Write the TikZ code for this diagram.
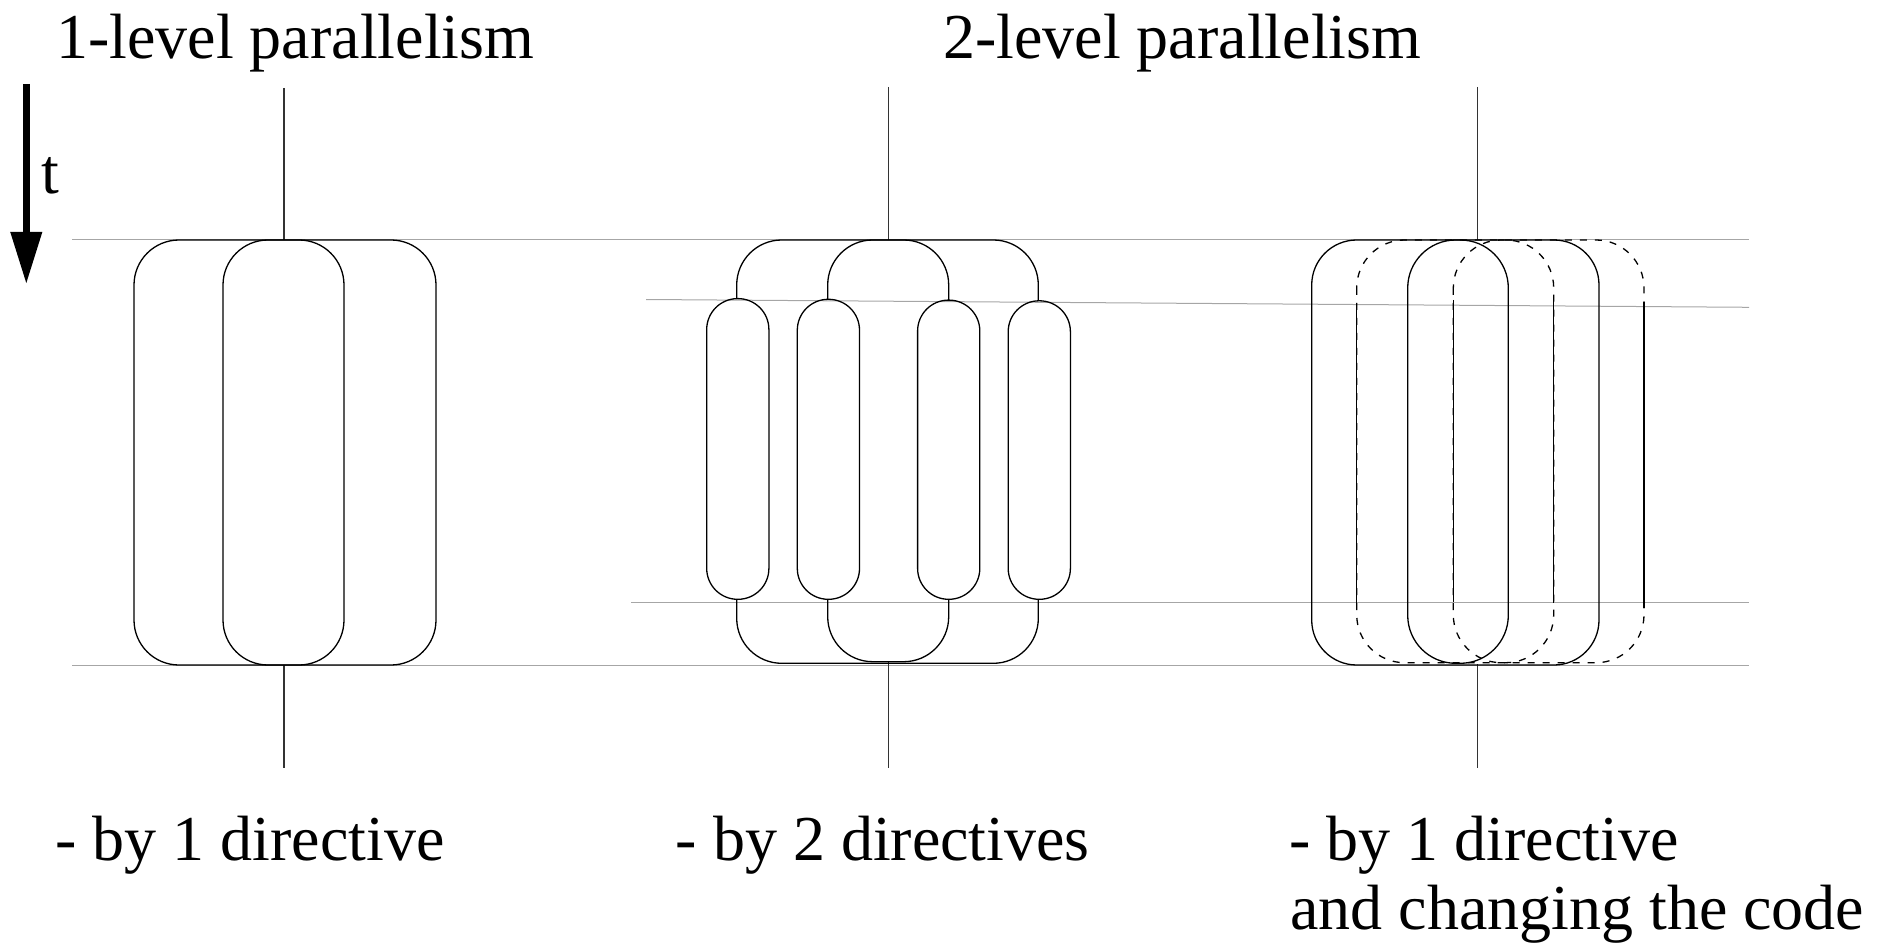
\documentclass[tikz,border=0pt]{standalone}
\usepackage{fontspec}
\setmainfont{Liberation Serif}
\usetikzlibrary{arrows.meta}
\begin{document}
\begin{tikzpicture}[x=1pt,y=-1pt,
  solidln/.style={line width=1.3pt,black},
  dashln/.style={line width=1.3pt,black,dash pattern=on 7pt off 8pt},
  guide/.style={line width=1pt,gray!70},
  axisln/.style={line width=1.5pt,black!80},
  lbl/.style={anchor=base west,inner sep=0pt,font=\fontsize{64}{70}\selectfont}]
\useasboundingbox (0,0) rectangle (1887,949);
% guide lines
\coordinate (gTopL) at (72,240);   \coordinate (gTopR) at (1749,240);
\coordinate (gBotL) at (72,665);   \coordinate (gBotR) at (1749,665);
\coordinate (gSlL) at (646,299.5); \coordinate (gSlR) at (1749,307.3);
\coordinate (gLoL) at (631,602.5); \coordinate (gLoR) at (1749,602.5);
\draw[guide] (gTopL) -- (gTopR);
\draw[guide] (gBotL) -- (gBotR);
\draw[guide] (gSlL) -- (gSlR);
\draw[guide] (gLoL) -- (gLoR);
% time arrow
\coordinate (tA) at (26.3,84); \coordinate (tB) at (26.3,284);
\draw[line width=7pt,-{Triangle[width=30pt,length=52pt]}] (tA) -- (tB);
\node[lbl] (tlab) at (41,194) {t};
% titles
\node[lbl] (title1) at (56,59) {1-level parallelism};
\node[lbl] (title2) at (943,59) {2-level parallelism};
% ---------- figure 1 ----------
\draw[axisln] (284,88) -- (284,240);
\draw[axisln] (284,665) -- (284,768);
\draw[solidln,rounded corners=45pt] (134,240) rectangle (436,665);
\draw[solidln,rounded corners=45pt] (223,240) rectangle (344,665);
% ---------- figure 2 ----------
\draw[axisln] (888.3,87) -- (888.3,240);
\draw[axisln] (888.3,662) -- (888.3,768);
\draw[solidln,rounded corners=45pt] (736.7,298.6) |- (1038.3,240) -- (1038.3,300.8);
\draw[solidln,rounded corners=45pt] (827.7,299.3) |- (948.7,240) -- (948.7,300.1);
\draw[solidln,rounded corners=45pt] (736.7,599.3) |- (1038.3,663.3) -- (1038.3,599.3);
\draw[solidln,rounded corners=45pt] (827.7,599.3) |- (948.7,661.7) -- (948.7,599.3);
\draw[solidln,rounded corners=30.9pt] (706.7,298.6) rectangle (768.9,599.3);
\draw[solidln,rounded corners=30.9pt] (797.3,299.3) rectangle (859.5,599.3);
\draw[solidln,rounded corners=30.9pt] (917.6,300.1) rectangle (979.8,599.3);
\draw[solidln,rounded corners=30.9pt] (1008.2,300.8) rectangle (1070.4,599.3);
% ---------- figure 3 ----------
\draw[axisln] (1477.7,87) -- (1477.7,240);
\draw[axisln] (1477.7,664) -- (1477.7,768);
\draw[solidln,rounded corners=45pt] (1311.7,240) rectangle (1599,665);
\draw[solidln,rounded corners=48pt] (1407.7,240) rectangle (1508.3,663.3);
\draw[dashln,rounded corners=48pt] (1356.7,240) rectangle (1644,662.7);
\draw[dashln,rounded corners=48pt] (1453.3,240) rectangle (1553.7,662.7);
\draw[solidln] (1356.7,303) -- (1356.7,603);
\draw[solidln] (1453.3,300) -- (1453.3,602);
\draw[solidln] (1553.7,300) -- (1553.7,603);
\draw[solidln] (1644,301.7) -- (1644,608);
% bottom labels
\node[lbl] (cap1) at (55,860) {- by 1 directive};
\node[lbl] (cap2) at (675.5,860) {- by 2 directives};
\node[lbl] (cap3) at (1289,860) {- by 1 directive};
\node[lbl] (cap4) at (1290,929) {and changing the code};
\end{tikzpicture}
\end{document}
